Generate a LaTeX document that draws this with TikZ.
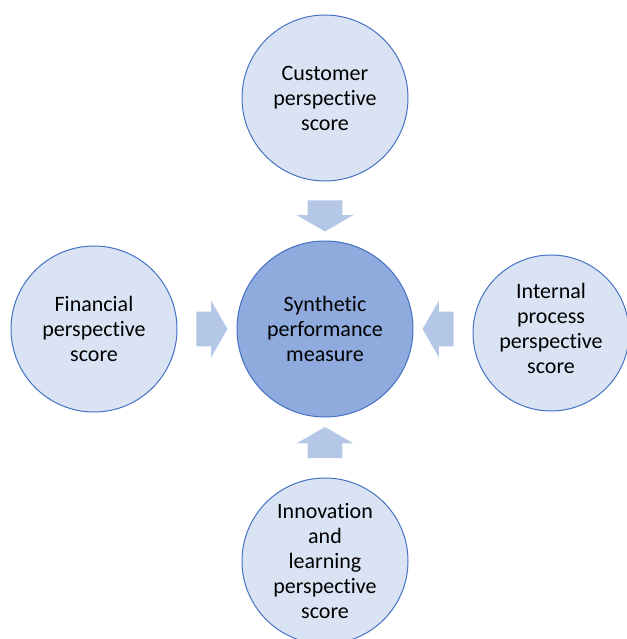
\documentclass[tikz,border=0pt]{standalone}
\usepackage{fontspec}
\setmainfont{Carlito}[Ligatures=NoCommon]
\usetikzlibrary{shapes.arrows,calc}

\definecolor{cercle}{HTML}{DAE3F3}
\definecolor{bord}{HTML}{4472C4}
\definecolor{centre}{HTML}{8FAADC}
\definecolor{fleche}{HTML}{B4C7E7}

\begin{document}
\begin{tikzpicture}[x=0.75pt, y=-0.75pt,
	score/.style={circle, draw=bord, fill=cercle, line width=0.75pt, minimum size=124.5pt, inner sep=0pt, align=center, font=\fontsize{16.5}{18.75}\selectfont},
	bloc/.style={single arrow, fill=fleche, draw=none, minimum height=23.25pt, inner xsep=0pt, inner ysep=12.75pt, single arrow head extend=8.25pt, single arrow tip angle=120}]
	
	% Cadre de l'image
	\useasboundingbox (0,0) rectangle (627,639);
	\clip (0,0) rectangle (627,639);
	
	% Cercle central
	\node[score, fill=centre, minimum size=132pt] (synth) at (325,329) {Synthetic\\performance\\measure};
	
	% Les quatre perspectives
	\node[score] (cust) at (325,98) {Customer\\perspective\\score};
	\node[score] (fin) at (94,329) {Financial\\perspective\\score};
	\node[score, minimum size=117pt, text depth=6.5pt] (proc) at (551,333) {Internal\\process\\perspective\\score};
	\node[score] (innov) at (325,561) {Innovation\\and\\learning\\perspective\\score};
	
	% Flèches pleines vers le centre
	\node[bloc, rotate=-90] (fcust) at ($(cust.south)!0.5!(synth.north)$) {};
	\node[bloc] (ffin) at ($(fin.east)!0.5!(synth.west)$) {};
	\node[bloc, rotate=180] (fproc) at ($(proc.west |- synth.east)!0.5!(synth.east)$) {};
	\node[bloc, rotate=90] (finnov) at ($(innov.north)!0.5!(synth.south)$) {};
	
\end{tikzpicture}
\end{document}
